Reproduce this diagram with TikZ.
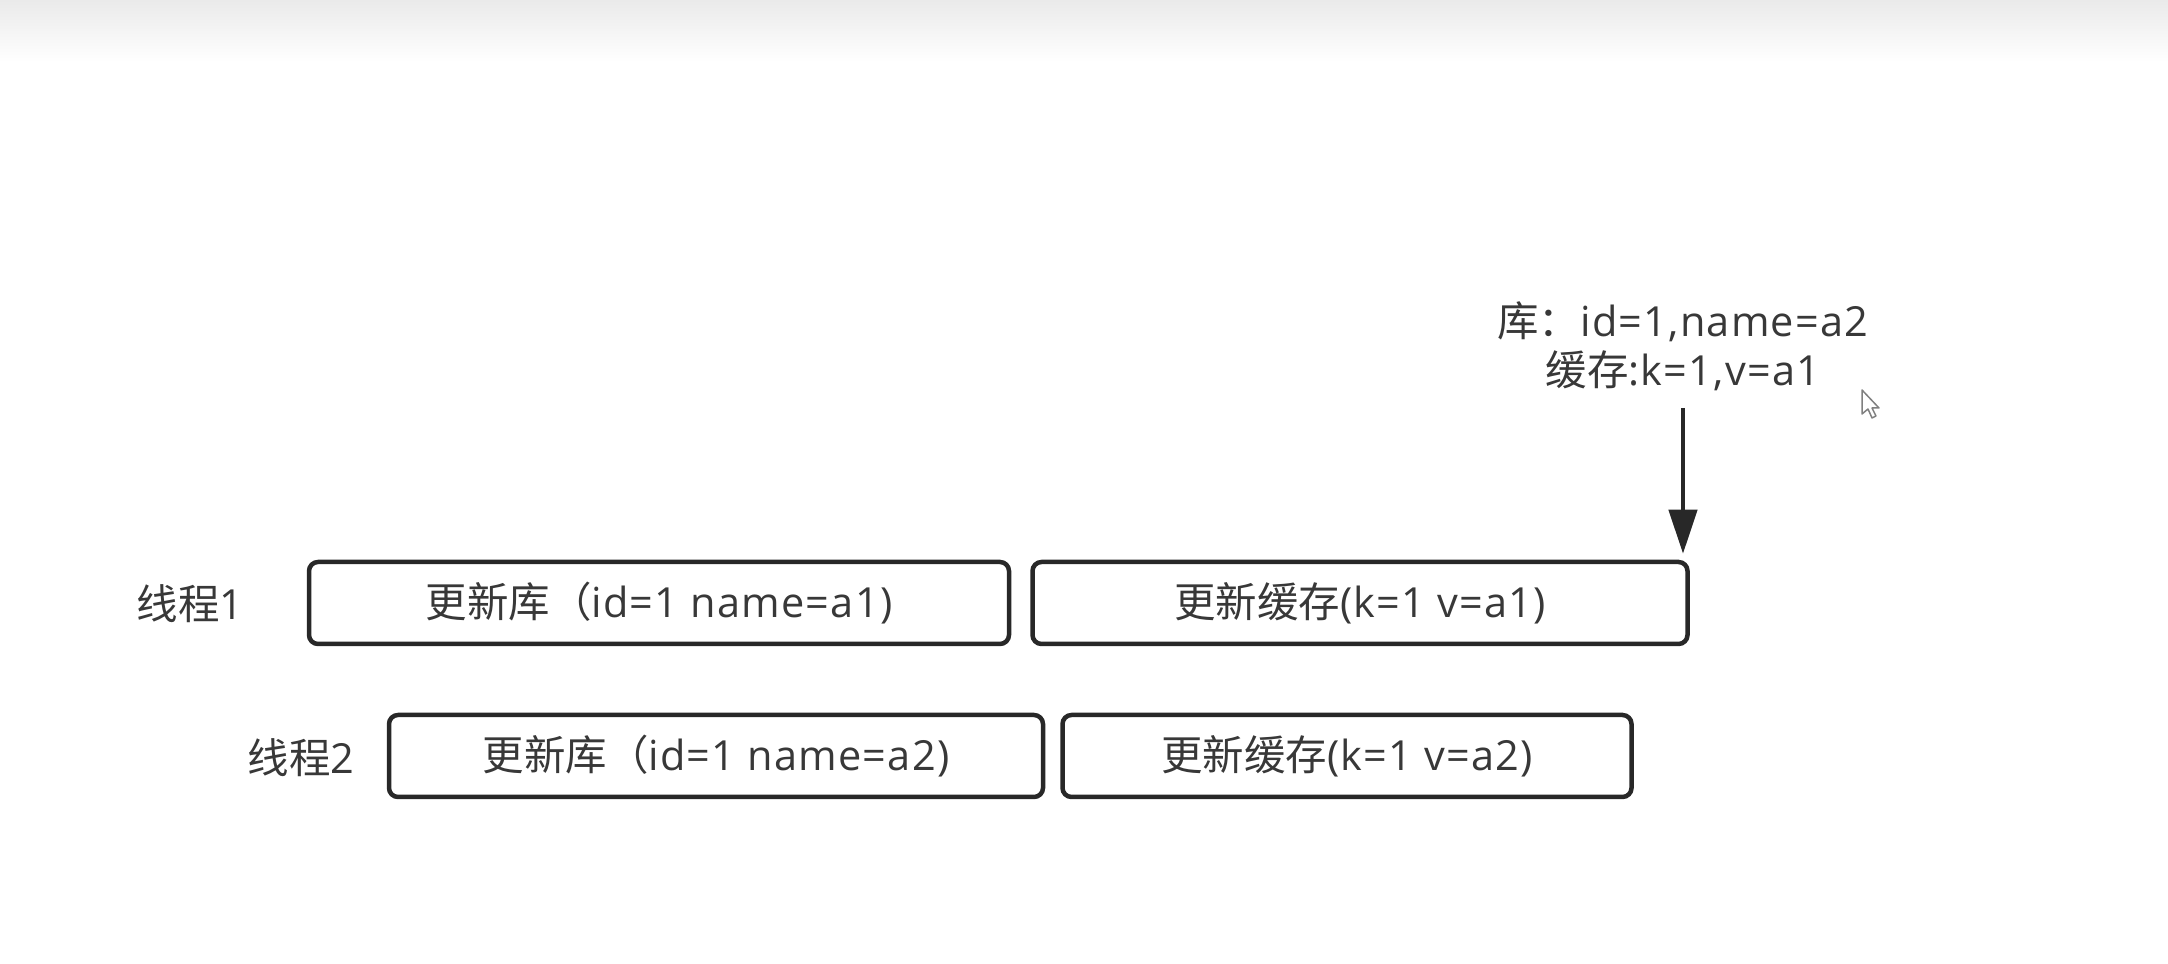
\documentclass[tikz,border=0pt]{standalone}
\usepackage{fontspec}
\setmainfont{Open Sans}[LetterSpace=3]
\newfontfamily\cjk{Noto Sans CJK SC}
\usepackage{tikz}
\usetikzlibrary{arrows.meta}
\definecolor{inkgray}{HTML}{383838}
\definecolor{linegray}{HTML}{282828}
\definecolor{topgray}{HTML}{EAEAEA}

\tikzset{
  stepbox/.style={draw=linegray, line width=0.45mm, rounded corners=0.9mm,
    minimum height=8.2mm, inner sep=0pt, text=inkgray},
  plaintext/.style={text=inkgray, inner sep=0pt},
}

\begin{document}
\begin{tikzpicture}[x=0.1mm, y=-0.1mm, font=\fontsize{11.8}{14.2}\selectfont]
		\useasboundingbox (0,0) rectangle (2168,964);
		% screen shadow on top
		\shade[top color=topgray, bottom color=white] (0,0) rectangle (2168,62);
		% thread 1
		\node[plaintext] (thread1) at (190,604) {{\cjk 线程}1};
		\node[stepbox, minimum width=70.0mm] (dbA) at (659,603) {{\cjk 更新库（}id=1 name=a1)};
		\node[stepbox, minimum width=65.5mm] (cacheA) at (1360,603) {{\cjk 更新缓存}(k=1 v=a1)};
		% thread 2
		\node[plaintext] (thread2) at (301,758) {{\cjk 线程}2};
		\node[stepbox, minimum width=65.4mm] (dbB) at (716,756) {{\cjk 更新库（}id=1 name=a2)};
		\node[stepbox, minimum width=56.9mm] (cacheB) at (1347,756) {{\cjk 更新缓存}(k=1 v=a2)};
		% result
		\node[plaintext, align=center, anchor=south] (state) at (1683,392)
			{{\cjk 库：}id=1,name=a2\\{\cjk 缓存}:k=1,v=a1};
		\draw[linegray, line width=0.45mm, -{Triangle[length=4.4mm,width=2.8mm]}, shorten <=1.6mm, shorten >=0.6mm]
			(state.south) -- (state.south |- cacheA.north);
		% mouse pointer
		\draw[gray, line width=0.15mm, fill=white, line join=round]
			(1862,390) -- (1862,414) -- (1868,409) -- (1872,418) -- (1876,416) -- (1872,408) -- (1879,408) -- cycle;
	\end{tikzpicture}
\end{document}
